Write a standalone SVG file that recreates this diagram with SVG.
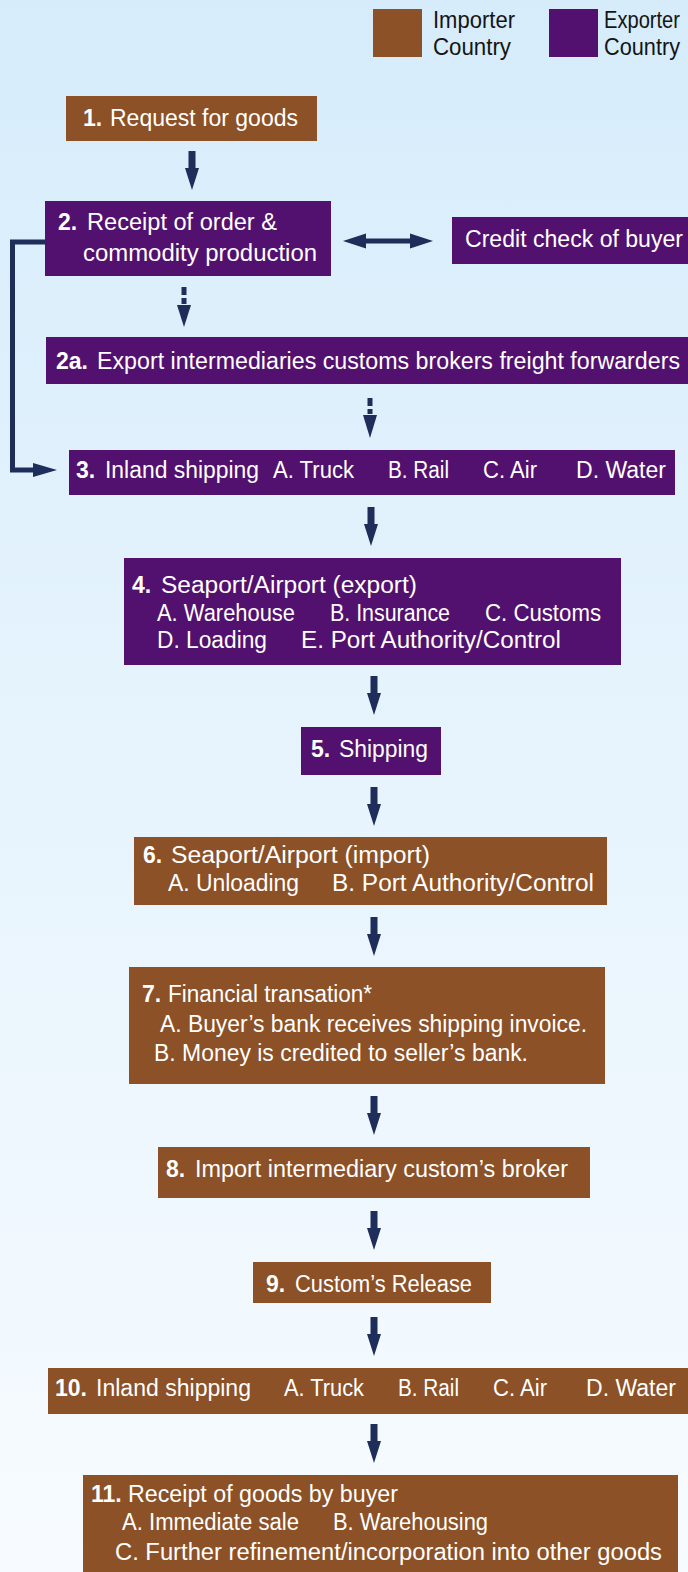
<svg xmlns="http://www.w3.org/2000/svg" width="688" height="1572" viewBox="0 0 688 1572">
  <defs>
    <linearGradient id="bg" x1="0" y1="0" x2="0" y2="1">
      <stop offset="0" stop-color="#d6ecfb"/>
      <stop offset="0.5" stop-color="#e7f4fd"/>
      <stop offset="1" stop-color="#f7fbff"/>
    </linearGradient>
    <style>
      .imp { fill: #8c5126; }
      .exp { fill: #52116f; }
      .t { font-family: "Liberation Sans", Arial, sans-serif; font-size: 23px; fill: #ffffff; }
      .b { font-weight: bold; }
      .lg { fill: #141414; }
      .arrow { fill: #1f2d5a; }
      .line { stroke: #1f2d5a; stroke-width: 5; fill: none; }
    </style>
  </defs>

  <rect x="0" y="0" width="688" height="1572" fill="url(#bg)"/>

  <!-- legend -->
  <g id="legend">
    <rect class="imp" x="373" y="9" width="49" height="48"/>
    <text class="t lg" x="433" y="28" textLength="82" lengthAdjust="spacingAndGlyphs">Importer</text>
    <text class="t lg" x="433" y="55" textLength="78" lengthAdjust="spacingAndGlyphs">Country</text>
    <rect class="exp" x="549" y="9" width="49" height="48"/>
    <text class="t lg" x="604" y="28" textLength="76" lengthAdjust="spacingAndGlyphs">Exporter</text>
    <text class="t lg" x="604" y="55" textLength="76" lengthAdjust="spacingAndGlyphs">Country</text>
  </g>

  <!-- connectors -->
  <g id="connectors">
    <polygon class="arrow" points="188.5,151 195.5,151 195.5,168 199,168 192,190 185,168 188.5,168"/>
    <!-- credit check link -->
    <line class="line" x1="362" y1="241" x2="414" y2="241"/>
    <polygon class="arrow" points="343,241 366,233.5 366,248.5"/>
    <polygon class="arrow" points="433,241 410,233.5 410,248.5"/>
    <!-- 2 to 2a, dashed -->
    <rect class="arrow" x="181.5" y="287" width="5" height="8"/>
    <rect class="arrow" x="181.5" y="298" width="5" height="6"/>
    <polygon class="arrow" points="177,305 191,305 184,327"/>
    <!-- 2a to 3, dashed -->
    <rect class="arrow" x="367.5" y="398" width="5" height="8"/>
    <rect class="arrow" x="367.5" y="409" width="5" height="5"/>
    <polygon class="arrow" points="363,415 377,415 370,438"/>
    <!-- 2 to 3, direct -->
    <path class="line" d="M45,242 H12.5 V470 H36"/>
    <polygon class="arrow" points="33,463 57,470 33,477"/>
    <!-- main chain -->
    <polygon class="arrow" points="367.5,507 374.5,507 374.5,524 378,524 371,546 364,524 367.5,524"/>
    <polygon class="arrow" points="370.5,676 377.5,676 377.5,693 381,693 374,715 367,693 370.5,693"/>
    <polygon class="arrow" points="370.5,787 377.5,787 377.5,804 381,804 374,826 367,804 370.5,804"/>
    <polygon class="arrow" points="370.5,917 377.5,917 377.5,934 381,934 374,956 367,934 370.5,934"/>
    <polygon class="arrow" points="370.5,1096 377.5,1096 377.5,1113 381,1113 374,1135 367,1113 370.5,1113"/>
    <polygon class="arrow" points="370.5,1211 377.5,1211 377.5,1228 381,1228 374,1250 367,1228 370.5,1228"/>
    <polygon class="arrow" points="370.5,1317 377.5,1317 377.5,1334 381,1334 374,1356 367,1334 370.5,1334"/>
    <polygon class="arrow" points="370.5,1424 377.5,1424 377.5,1441 381,1441 374,1463 367,1441 370.5,1441"/>
  </g>

  <g id="n1">
    <rect class="imp" x="66" y="96" width="251" height="45"/>
    <text class="t b" x="83" y="126">1.</text>
    <text class="t" x="110" y="126" textLength="188" lengthAdjust="spacingAndGlyphs">Request for goods</text>
  </g>

  <g id="n2">
    <rect class="exp" x="45" y="201" width="286" height="75"/>
    <text class="t b" x="58" y="230">2.</text>
    <text class="t" x="87" y="230" textLength="190" lengthAdjust="spacingAndGlyphs">Receipt of order &amp;</text>
    <text class="t" x="83" y="261" textLength="234" lengthAdjust="spacingAndGlyphs">commodity production</text>
  </g>

  <g id="credit">
    <rect class="exp" x="452" y="217" width="236" height="47"/>
    <text class="t" x="465" y="247" textLength="218" lengthAdjust="spacingAndGlyphs">Credit check of buyer</text>
  </g>

  <g id="n2a">
    <rect class="exp" x="46" y="337" width="642" height="47"/>
    <text class="t b" x="56" y="369">2a.</text>
    <text class="t" x="97" y="369" textLength="583" lengthAdjust="spacingAndGlyphs">Export intermediaries customs brokers freight  forwarders</text>
  </g>

  <g id="n3">
    <rect class="exp" x="69" y="450" width="606" height="45"/>
    <text class="t b" x="76" y="478">3.</text>
    <text class="t" x="105" y="478" textLength="154" lengthAdjust="spacingAndGlyphs">Inland shipping</text>
    <text class="t" x="273" y="478" textLength="81" lengthAdjust="spacingAndGlyphs">A. Truck</text>
    <text class="t" x="388" y="478" textLength="61" lengthAdjust="spacingAndGlyphs">B. Rail</text>
    <text class="t" x="483" y="478" textLength="54" lengthAdjust="spacingAndGlyphs">C. Air</text>
    <text class="t" x="576" y="478" textLength="90" lengthAdjust="spacingAndGlyphs">D. Water</text>
  </g>

  <g id="n4">
    <rect class="exp" x="124" y="558" width="497" height="107"/>
    <text class="t b" x="132" y="593">4.</text>
    <text class="t" x="161" y="593" textLength="256" lengthAdjust="spacingAndGlyphs">Seaport/Airport (export)</text>
    <text class="t" x="157" y="621" textLength="138" lengthAdjust="spacingAndGlyphs">A. Warehouse</text>
    <text class="t" x="330" y="621" textLength="120" lengthAdjust="spacingAndGlyphs">B. Insurance</text>
    <text class="t" x="485" y="621" textLength="116" lengthAdjust="spacingAndGlyphs">C. Customs</text>
    <text class="t" x="157" y="648" textLength="110" lengthAdjust="spacingAndGlyphs">D. Loading</text>
    <text class="t" x="301" y="648" textLength="260" lengthAdjust="spacingAndGlyphs">E. Port Authority/Control</text>
  </g>

  <g id="n5">
    <rect class="exp" x="301" y="727" width="140" height="48"/>
    <text class="t b" x="311" y="757">5.</text>
    <text class="t" x="339" y="757" textLength="89" lengthAdjust="spacingAndGlyphs">Shipping</text>
  </g>

  <g id="n6">
    <rect class="imp" x="134" y="837" width="473" height="68"/>
    <text class="t b" x="143" y="863">6.</text>
    <text class="t" x="171" y="863" textLength="259" lengthAdjust="spacingAndGlyphs">Seaport/Airport (import)</text>
    <text class="t" x="168" y="891" textLength="131" lengthAdjust="spacingAndGlyphs">A. Unloading</text>
    <text class="t" x="332" y="891" textLength="262" lengthAdjust="spacingAndGlyphs">B. Port Authority/Control</text>
  </g>

  <g id="n7">
    <rect class="imp" x="129" y="967" width="476" height="117"/>
    <text class="t b" x="142" y="1002">7.</text>
    <text class="t" x="168" y="1002" textLength="204" lengthAdjust="spacingAndGlyphs">Financial transation*</text>
    <text class="t" x="160" y="1032" textLength="427" lengthAdjust="spacingAndGlyphs">A. Buyer’s bank receives shipping  invoice.</text>
    <text class="t" x="154" y="1061" textLength="374" lengthAdjust="spacingAndGlyphs">B. Money is credited to seller’s bank.</text>
  </g>

  <g id="n8">
    <rect class="imp" x="158" y="1147" width="432" height="51"/>
    <text class="t b" x="166" y="1177">8.</text>
    <text class="t" x="195" y="1177" textLength="373" lengthAdjust="spacingAndGlyphs">Import intermediary custom’s broker</text>
  </g>

  <g id="n9">
    <rect class="imp" x="253" y="1262" width="238" height="41"/>
    <text class="t b" x="266" y="1292">9.</text>
    <text class="t" x="295" y="1292" textLength="177" lengthAdjust="spacingAndGlyphs">Custom’s Release</text>
  </g>

  <g id="n10">
    <rect class="imp" x="48" y="1368" width="640" height="46"/>
    <text class="t b" x="55" y="1396">10.</text>
    <text class="t" x="96" y="1396" textLength="155" lengthAdjust="spacingAndGlyphs">Inland shipping</text>
    <text class="t" x="284" y="1396" textLength="80" lengthAdjust="spacingAndGlyphs">A. Truck</text>
    <text class="t" x="398" y="1396" textLength="61" lengthAdjust="spacingAndGlyphs">B. Rail</text>
    <text class="t" x="493" y="1396" textLength="54" lengthAdjust="spacingAndGlyphs">C. Air</text>
    <text class="t" x="586" y="1396" textLength="90" lengthAdjust="spacingAndGlyphs">D. Water</text>
  </g>

  <g id="n11">
    <rect class="imp" x="83" y="1475" width="595" height="97"/>
    <text class="t b" x="91" y="1502">11.</text>
    <text class="t" x="128" y="1502" textLength="270" lengthAdjust="spacingAndGlyphs">Receipt of goods by buyer</text>
    <text class="t" x="122" y="1530" textLength="177" lengthAdjust="spacingAndGlyphs">A. Immediate sale</text>
    <text class="t" x="333" y="1530" textLength="155" lengthAdjust="spacingAndGlyphs">B. Warehousing</text>
    <text class="t" x="115" y="1560" textLength="547" lengthAdjust="spacingAndGlyphs">C. Further refinement/incorporation into other goods</text>
  </g>
</svg>
